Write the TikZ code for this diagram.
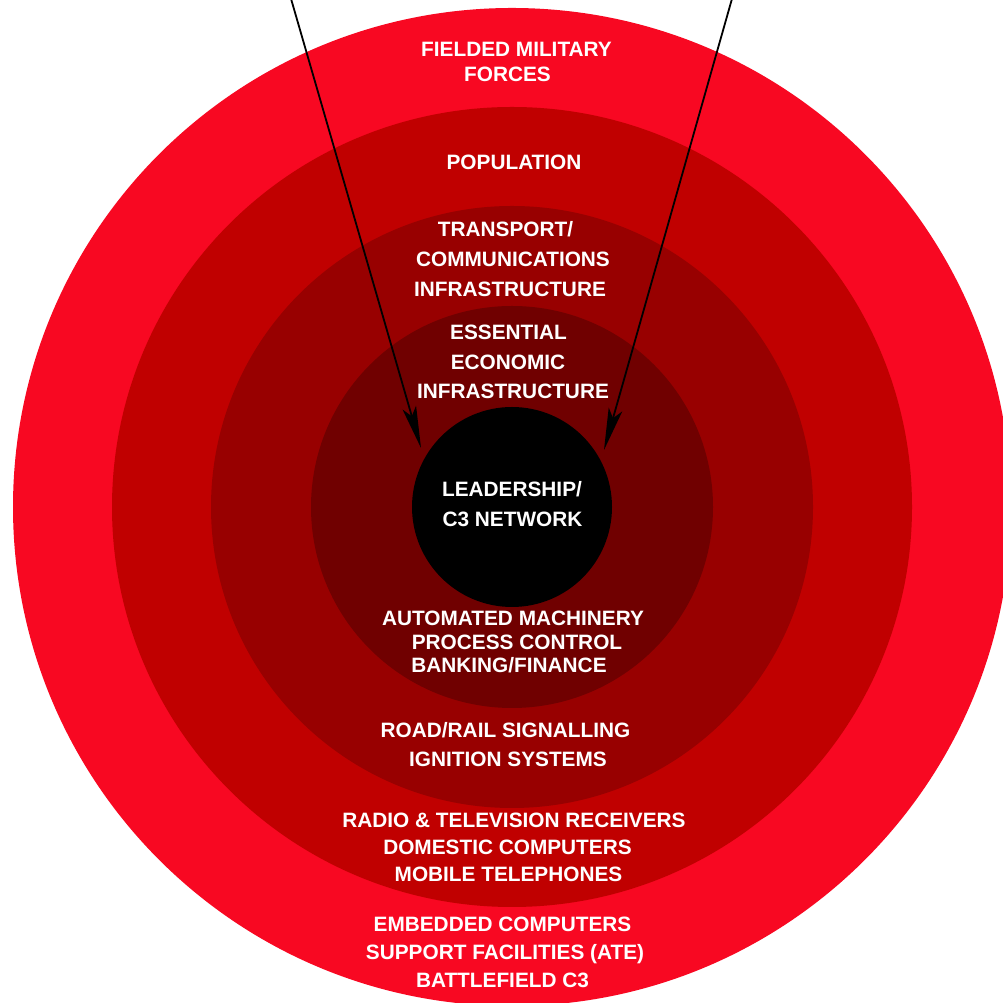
\documentclass[tikz,border=0pt]{standalone}
\usepackage{fontspec}
\setmainfont{Liberation Sans}
\usetikzlibrary{arrows.meta}
\definecolor{ringA}{RGB}{248,8,34}
\definecolor{ringB}{RGB}{192,0,0}
\definecolor{ringC}{RGB}{152,0,0}
\definecolor{ringD}{RGB}{112,0,0}
\begin{document}
\begin{tikzpicture}[x=1pt,y=1pt,
  lbl/.style={text=white, font=\bfseries\fontsize{20.8}{24}\selectfont, anchor=base, inner sep=0pt},
  ptr/.style={draw=black, line width=1.8pt, -{Stealth[length=42pt,width=14pt,inset=9pt]}}]
\useasboundingbox (0,0) rectangle (1002,1003);
\fill[white] (0,0) rectangle (1002,1003);
\coordinate (c) at (512,496);
\fill[ringA] (c) circle (499);
\fill[ringB] (c) circle (400);
\fill[ringC] (c) circle (301);
\fill[ringD] (c) circle (201);
\node[circle, fill=black, minimum size=200pt, inner sep=0pt] (core) at (c) {};

\node[lbl] (fm1) at (516.5,946) {FIELDED MILITARY};
\node[lbl] (fm2) at (507.5,921) {FORCES};
\node[lbl] (pop) at (514,833) {POPULATION};
\node[lbl] (tc1) at (505.5,766) {TRANSPORT/};
\node[lbl] (tc2) at (513,736) {COMMUNICATIONS};
\node[lbl] (tc3) at (510,706) {INFRASTRUCTURE};
\node[lbl] (ee1) at (508.5,663) {ESSENTIAL};
\node[lbl] (ee2) at (508,633) {ECONOMIC};
\node[lbl] (ee3) at (513,604) {INFRASTRUCTURE};
\node[lbl] (ld1) at (512,506) {LEADERSHIP/};
\node[lbl] (ld2) at (512.5,476) {C3 NETWORK};
\node[lbl] (am1) at (513,377) {AUTOMATED MACHINERY};
\node[lbl] (am2) at (517,353) {PROCESS CONTROL};
\node[lbl] (am3) at (509,330) {BANKING/FINANCE};
\node[lbl] (rr1) at (505.5,265) {ROAD/RAIL SIGNALLING};
\node[lbl] (rr2) at (508,236) {IGNITION SYSTEMS};
\node[lbl] (rt1) at (514,175) {RADIO \& TELEVISION RECEIVERS};
\node[lbl] (rt2) at (507.5,148) {DOMESTIC COMPUTERS};
\node[lbl] (rt3) at (508.5,121) {MOBILE TELEPHONES};
\node[lbl] (ec1) at (502.5,71) {EMBEDDED COMPUTERS};
\node[lbl] (ec2) at (505,43) {SUPPORT FACILITIES (ATE)};
\node[lbl] (ec3) at (502.5,15) {BATTLEFIELD C3};

\coordinate (ls) at (290.5,1006);
\coordinate (le) at (421,555);
\coordinate (rs) at (732.5,1006);
\coordinate (re) at (604,553);
\draw[ptr] (ls) -- (le);
\draw[ptr] (rs) -- (re);
\end{tikzpicture}
\end{document}
